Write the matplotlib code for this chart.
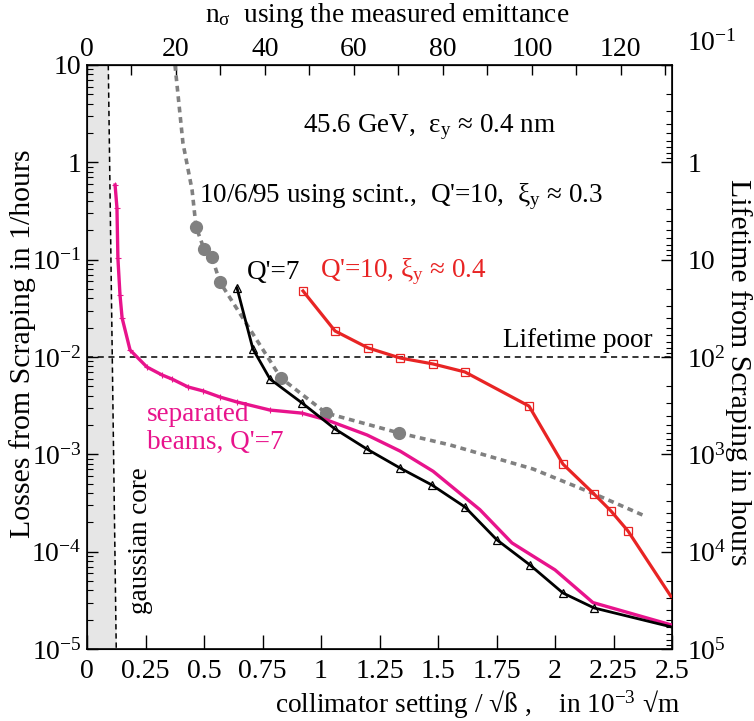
import matplotlib
matplotlib.use('Agg')
from matplotlib import pyplot as plt
from matplotlib.ticker import FixedLocator, NullFormatter
from matplotlib.transforms import ScaledTranslation

plt.rcParams['font.family'] = ['Liberation Serif', 'DejaVu Serif']
plt.rcParams['mathtext.fontset'] = 'custom'
plt.rcParams['mathtext.rm'] = 'Liberation Serif'
plt.rcParams['mathtext.it'] = 'Liberation Serif:italic'
plt.rcParams['mathtext.bf'] = 'Liberation Serif:bold'

# separated beams, Q'=7 (magenta)
sep_x = [0.120, 0.128, 0.132, 0.141, 0.150, 0.184, 0.256, 0.321, 0.363, 0.432, 0.496,
         0.568, 0.641, 0.782, 0.919, 1.026, 1.197, 1.338, 1.479, 1.679, 1.816, 2.0,
         2.162, 2.5]
sep_y = [0.585, 0.34, 0.104, 0.0434, 0.0252, 0.0118, 0.00789, 0.00653, 0.00594, 0.00492,
         0.00448, 0.00388, 0.00345, 0.00285, 0.00265, 0.00225, 0.00158, 0.00108, 6.7e-4,
         2.7e-4, 1.23e-4, 6.5e-5, 3.0e-5, 1.76e-5]

# Q'=7 (black)
q7_x = [0.641, 0.709, 0.782, 0.919, 1.060, 1.197, 1.338, 1.474, 1.615, 1.752, 1.893,
        2.034, 2.167, 2.5]
q7_y = [0.0512, 0.0121, 0.00594, 0.00337, 0.00182, 0.00113, 7.23e-4, 4.84e-4, 2.88e-4,
        1.32e-4, 7.3e-5, 3.76e-5, 2.64e-5, 1.68e-5]

# Q'=10, xi_y ~ 0.4 (red)
q10_x = [0.923, 1.060, 1.201, 1.338, 1.479, 1.615, 1.889, 2.034, 2.167, 2.239, 2.312, 2.5]
q10_y = [0.0477, 0.0185, 0.0124, 0.00977, 0.00848, 0.00702, 0.00313, 7.94e-4, 3.91e-4,
         2.62e-4, 1.63e-4, 3.34e-5]

# 10/6/95 scintillator points and the dotted curve through them (grey)
scint_x = [0.466, 0.500, 0.534, 0.568, 0.829, 1.021, 1.333]
scint_y = [0.217, 0.129, 0.106, 0.0589, 0.00608, 0.00266, 0.00166]
fit_x = [0.376, 0.410, 0.449, 0.466, 0.500, 0.534, 0.568, 0.829, 1.021, 1.333, 1.551,
         1.906, 2.179, 2.385]
fit_y = [10, 1.58, 0.52, 0.217, 0.129, 0.106, 0.0589, 0.00608, 0.00266, 0.00166, 0.00125,
         7.07e-4, 3.82e-4, 2.32e-4]

# gaussian core edge and lifetime limit
core_x = [0.091, 0.125]
core_y = [10, 1e-5]
poor_level = 1e-2

left_ticks = [1e1, 1, 1e-1, 1e-2, 1e-3, 1e-4, 1e-5]
left_labels = ['10', '1', '$10^{-1}$', '$10^{-2}$', '$10^{-3}$', '$10^{-4}$', '$10^{-5}$']
right_ticks = [1e-1, 1, 1e1, 1e2, 1e3, 1e4, 1e5]
right_labels = ['$10^{-1}$', '1', '10', '$10^{2}$', '$10^{3}$', '$10^{4}$', '$10^{5}$']
x_ticks = [0, 0.25, 0.5, 0.75, 1, 1.25, 1.5, 1.75, 2, 2.25, 2.5]
x_labels = ['0', '0.25', '0.5', '0.75', '1', '1.25', '1.5', '1.75', '2', '2.25', '2.5']
nsig_ticks = [0, 20, 40, 60, 80, 100, 120]
nsig_per_unit = 52.6

FS = 19.5
TFS = 20
LFS = 21.5
MAGENTA = '#e8138c'
RED = '#e82424'
GREY = '#808080'

fig = plt.figure(figsize=(7.54, 7.21), dpi=100)
ax = fig.add_axes([87/754, 72/721, 585/754, 584/721])

ax.set_yscale('log')
ax.set_xlim(0, 2.5)
ax.set_ylim(1e-5, 10)

ax.fill_betweenx(core_y, [0, 0], core_x, color='#e6e6e6', lw=0, zorder=0)
ax.plot(core_x, core_y, color='k', lw=1.1, ls=(0, (3.5, 2.5)), zorder=1)
ax.axhline(poor_level, color='k', lw=1.1, ls=(0, (4, 3)), zorder=1)

ax.plot(fit_x, fit_y, color=GREY, lw=2.6, ls=(0, (1.6, 1.3)), zorder=2)
ax.plot(scint_x, scint_y, 'o', color=GREY, ms=8.5, zorder=3)
ax.plot(sep_x, sep_y, color=MAGENTA, lw=2.4, marker='+', ms=4, mew=0.8,
        markevery=list(range(15)), zorder=4)
ax.plot(q7_x, q7_y, color='k', lw=2.0, marker='^', ms=6, mfc='none', mew=0.9,
        markevery=list(range(13)), zorder=5)
ax.plot(q10_x, q10_y, color=RED, lw=2.3, marker='s', ms=6, mfc='none', mew=0.9,
        markevery=list(range(11)), zorder=5)

# ticks
ax.yaxis.set_major_locator(FixedLocator(left_ticks))
ax.set_yticklabels(left_labels)
ax.yaxis.set_minor_locator(FixedLocator([m * 10.0**e for e in range(-5, 1) for m in range(2, 10)]))
ax.yaxis.set_minor_formatter(NullFormatter())
ax.set_xticks(x_ticks)
ax.set_xticklabels(x_labels)
ax.tick_params(axis='x', which='major', direction='in', length=10, width=1, labelsize=TFS, pad=7)
ax.tick_params(axis='y', which='major', direction='in', length=8, width=1, labelsize=TFS, pad=4,
               right=False)
ax.tick_params(axis='y', which='minor', direction='in', length=4.5, width=0.8, right=False)
for s in ax.spines.values():
    s.set_linewidth(1.2)

axr = ax.twinx()
axr.set_yscale('log')
axr.set_ylim(1e5, 1e-1)
axr.yaxis.set_major_locator(FixedLocator(right_ticks))
axr.set_yticklabels(right_labels)
axr.yaxis.set_minor_locator(FixedLocator([m * 10.0**e for e in range(-1, 5) for m in range(2, 10)]))
axr.yaxis.set_minor_formatter(NullFormatter())
axr.tick_params(axis='y', which='major', direction='in', length=8, width=1, labelsize=TFS, pad=11)
axr.tick_params(axis='y', which='minor', direction='in', length=4.5, width=0.8)
# top right label sits above the corner in the original
top_lbl = axr.get_yticklabels()[0]
top_lbl.set_transform(top_lbl.get_transform() + ScaledTranslation(0, 18/72, fig.dpi_scale_trans))

axt = ax.secondary_xaxis('top', functions=(lambda x: x * nsig_per_unit,
                                           lambda n: n / nsig_per_unit))
axt.set_xticks(nsig_ticks)
axt.set_xticklabels([str(t) for t in nsig_ticks])
axt.xaxis.set_minor_locator(FixedLocator([10, 30, 50, 70, 90, 110, 130]))
axt.tick_params(axis='x', which='major', direction='in', length=7, width=1, labelsize=TFS, pad=2)
axt.tick_params(axis='x', which='minor', direction='in', length=7, width=1)

# annotations
ax.text(0.586, 0.894, '45.6 GeV,  ε$_\\mathrm{y}$ ≈ 0.4 nm', transform=ax.transAxes,
        ha='center', va='center', fontsize=FS)
ax.text(0.537, 0.774, "10/6/95 using scint.,  Q'=10,  ξ$_\\mathrm{y}$ ≈ 0.3",
        transform=ax.transAxes, ha='center', va='center', fontsize=FS)
ax.text(0.2735, 0.644, "Q'=7", transform=ax.transAxes, ha='left', va='center', fontsize=FS)
ax.text(0.398, 0.646, "Q'=10, ξ$_\\mathrm{y}$ ≈ 0.4", transform=ax.transAxes,
        ha='left', va='center', fontsize=FS, color=RED)
ax.text(0.9675, 0.529, 'Lifetime poor', transform=ax.transAxes, ha='right', va='center',
        fontsize=FS)
ax.text(0.1026, 0.378, "separated\nbeams, Q'=7", transform=ax.transAxes, ha='left',
        va='center', fontsize=FS, color=MAGENTA, linespacing=1.15)
ax.text(0.0923, 0.185, 'gaussian core', transform=ax.transAxes, ha='center', va='center',
        rotation=90, fontsize=FS)

fig.text(0.513, 0.979, 'n$_\\mathrm{σ}$  using the measured emittance', ha='center',
         va='center', fontsize=FS + 0.2)
fig.text(0.902, 0.022, 'collimator setting / √ß ,    in 10$^{-3}$ √m', ha='right',
         va='center', fontsize=FS + 0.2)
fig.text(0.030, 0.524, 'Losses from Scraping in 1/hours', rotation=90, ha='center',
         va='center', fontsize=LFS)
fig.text(0.980, 0.484, 'Lifetime from Scraping in hours', rotation=270, ha='center',
         va='center', fontsize=LFS)

fig.savefig('out.png', dpi=100)
